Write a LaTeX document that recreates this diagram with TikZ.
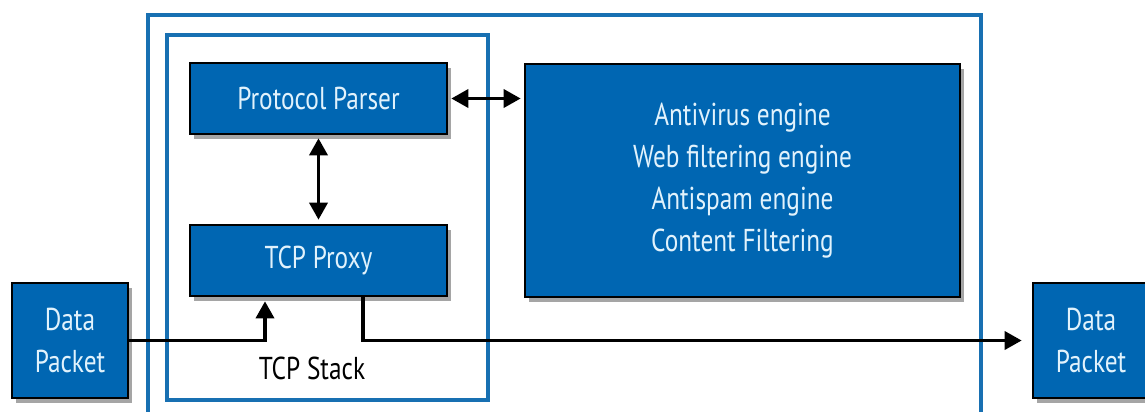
\documentclass[tikz,border=0pt]{standalone}
\usepackage{fontspec}
\setmainfont{PT Sans}[FakeStretch=0.8]
\usetikzlibrary{arrows.meta, positioning, shadows}
\definecolor{boxblue}{RGB}{0,102,178}
\definecolor{frameblue}{RGB}{24,112,178}
\definecolor{paletext}{RGB}{225,242,252}

\begin{document}
\begin{tikzpicture}[
  modbox/.style={draw=black, line width=1.5pt, fill=boxblue, text=paletext,
    font=\fontsize{18}{24}\selectfont, align=center,
    drop shadow={shadow xshift=0.08cm, shadow yshift=-0.09cm, opacity=0.5, fill=black!70}},
  frame/.style={draw=frameblue, line width=1.8pt},
  flow/.style={-{Triangle[length=3.4mm, width=3.6mm]}, line width=2pt},
  bothflow/.style={{Triangle[length=3.4mm, width=3.6mm]}-{Triangle[length=3.4mm, width=3.6mm]}, line width=2pt}
]
\useasboundingbox[fill=white] (0,0) rectangle (22.9,-8.22);

% frames
\draw[frame] (2.96,-8.5) -- (2.96,-0.30) -- (19.62,-0.30) -- (19.62,-8.5);
\draw[frame] (3.34,-0.70) rectangle (9.76,-8.0);
\node[font=\fontsize{18}{24}\selectfont] (stacklbl) at (6.24,-7.36) {TCP Stack};

% modules
\node[modbox, minimum width=5.14cm, minimum height=1.42cm] (parser) at (6.37,-1.97) {Protocol Parser};
\node[modbox, minimum width=5.14cm, minimum height=1.42cm] (proxy) at (6.37,-5.21) {TCP Proxy};
\node[modbox, minimum width=8.7cm, minimum height=4.66cm] (engines) at (14.85,-3.61)
  {Antivirus engine\\Web filtering engine\\Antispam engine\\Content Filtering};

\node[modbox, minimum width=2.32cm, minimum height=2.3cm] (pktin) at (1.4,-6.81) {Data\\Packet};
\node[modbox, minimum width=2.32cm, minimum height=2.3cm] (pktout) at (21.82,-6.81) {Data\\Packet};

% connectors
\draw[bothflow] ([xshift=0.06cm]parser.east) -- ([xshift=-0.06cm]parser.east -| engines.west);
\draw[bothflow] ([yshift=-0.06cm]parser.south) -- ([yshift=0.08cm]proxy.north);
\draw[flow] (pktin.east) -| ([xshift=-1.07cm, yshift=-0.08cm]proxy.south);
\draw[flow] ([xshift=0.89cm]proxy.south) |- ([xshift=-0.2cm]pktout.west);
\end{tikzpicture}
\end{document}
